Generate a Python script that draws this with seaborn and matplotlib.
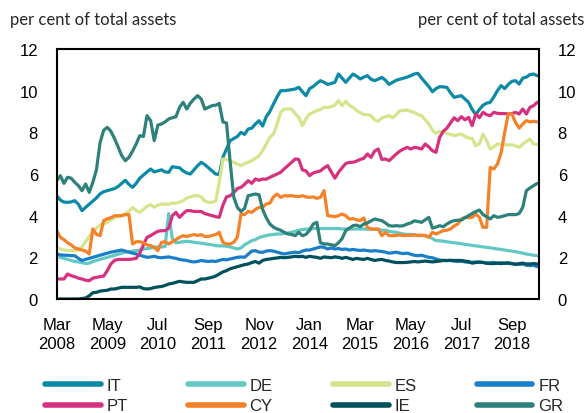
import numpy as np
import pandas as pd
import matplotlib
matplotlib.use("Agg")
import matplotlib.pyplot as plt
import seaborn as sns
from matplotlib.lines import Line2D

# ---- data (monthly, Mar 2008 - Apr 2019), per cent of total assets ----
tick_labels = ["Mar\n2008", "May\n2009", "Jul\n2010", "Sep\n2011", "Nov\n2012",
               "Jan\n2014", "Mar\n2015", "May\n2016", "Jul\n2017", "Sep\n2018"]

IT = [4.96,4.75,4.65,4.64,4.66,4.72,4.55,4.24,4.4,4.55,4.7,4.85,
      5.05,5.15,5.2,5.25,5.3,5.4,5.55,5.7,5.5,5.36,5.55,5.8,
      5.95,6.1,6.24,6.1,6.15,6.2,6.1,6.08,6.35,6.32,6.3,6.15,
      6.05,6.0,6.2,6.4,6.56,6.45,6.3,6.15,6.0,5.97,6.8,7.2,
      7.6,7.7,7.8,8.0,7.9,8.16,8.2,8.4,8.56,8.3,8.75,9.0,
      9.36,9.7,10.0,10.0,10.02,10.05,10.08,10.16,9.95,9.76,10.1,10.2,
      10.35,10.48,10.4,10.3,10.35,10.4,10.8,10.6,10.4,10.6,10.8,10.7,
      10.56,10.65,10.72,10.55,10.48,10.55,10.64,10.5,10.3,10.4,10.5,10.55,
      10.6,10.65,10.72,10.8,10.83,10.6,10.4,10.2,9.95,10.1,10.19,10.18,
      10.16,9.9,9.68,9.72,9.76,9.6,9.44,9.1,8.85,9.1,9.3,9.4,
      9.44,9.7,10.0,10.24,10.1,10.3,10.45,10.48,10.32,10.6,10.65,10.77,
      10.8,10.72]

DE = [2.05,2.0,1.95,1.9,1.85,1.8,1.78,1.75,1.7,1.72,1.8,1.85,
      1.9,1.95,2.0,2.05,2.1,2.15,2.2,2.25,2.26,2.3,2.32,2.35,
      2.4,2.42,2.45,2.48,2.5,2.5,2.52,4.1,2.9,2.7,2.72,2.75,
      2.77,2.75,2.72,2.7,2.68,2.65,2.62,2.6,2.56,2.55,2.55,2.53,
      2.5,2.45,2.4,2.45,2.6,2.7,2.8,2.85,2.95,3.0,3.04,3.08,
      3.1,3.12,3.12,3.15,3.17,3.2,3.25,3.3,3.33,3.35,3.36,3.38,
      3.38,3.38,3.38,3.38,3.38,3.38,3.38,3.36,3.36,3.36,3.36,3.36,
      3.36,3.36,3.35,3.35,3.35,3.34,3.3,3.3,3.25,3.22,3.2,3.15,
      3.12,3.1,3.1,3.08,3.06,3.05,3.04,3.0,2.9,2.8,2.8,2.77,
      2.75,2.72,2.7,2.68,2.65,2.62,2.6,2.57,2.55,2.53,2.5,2.48,
      2.46,2.43,2.4,2.38,2.35,2.32,2.3,2.27,2.24,2.2,2.16,2.13,
      2.1,2.08]

ES = [2.48,2.4,2.35,2.33,2.32,2.32,2.35,2.5,2.75,3.0,3.2,3.4,
      3.55,3.6,3.68,3.8,3.92,3.96,4.0,4.1,4.2,4.4,4.25,4.16,
      4.3,4.45,4.53,4.4,4.5,4.56,4.55,4.55,4.6,4.6,4.65,4.72,
      4.85,4.9,4.96,4.96,4.9,4.7,4.64,4.64,4.7,5.6,6.72,6.7,
      6.64,6.55,6.48,6.4,6.5,6.56,6.64,6.75,6.88,7.12,7.44,7.76,
      7.92,8.4,8.96,9.12,9.12,9.12,8.9,8.72,8.32,8.64,8.88,8.95,
      9.04,9.1,9.2,9.2,9.23,9.3,9.52,9.28,9.49,9.3,9.2,9.04,
      8.95,8.85,8.85,8.8,8.6,8.53,8.69,8.75,8.8,8.7,8.85,9.04,
      9.05,9.07,9.0,8.96,8.85,8.8,8.6,8.4,8.1,7.95,8.05,8.0,
      7.95,7.9,7.84,7.88,7.92,7.8,7.73,7.7,7.36,7.45,7.92,7.6,
      7.2,7.3,7.44,7.42,7.4,7.4,7.4,7.35,7.28,7.44,7.55,7.68,
      7.44,7.42]

FR = [2.16,2.12,2.1,2.1,2.08,2.08,1.95,1.85,1.9,1.95,2.0,2.05,
      2.1,2.15,2.2,2.25,2.28,2.32,2.35,2.3,2.25,2.2,2.16,2.1,
      2.05,2.0,2.02,2.05,2.0,1.98,2.0,2.02,1.98,1.95,1.9,1.87,
      1.85,1.8,1.78,1.8,1.85,1.82,1.8,1.82,1.8,1.85,1.9,1.88,
      1.92,1.96,2.0,2.02,2.0,2.15,2.3,2.32,2.25,2.24,2.3,2.32,
      2.3,2.25,2.2,2.16,2.2,2.22,2.25,2.22,2.3,2.35,2.35,2.4,
      2.45,2.5,2.48,2.4,2.45,2.4,2.42,2.38,2.4,2.35,2.38,2.35,
      2.33,2.35,2.32,2.3,2.32,2.3,2.28,2.25,2.2,2.22,2.25,2.2,
      2.18,2.2,2.15,2.1,2.08,2.1,2.05,2.0,1.98,1.92,1.87,1.85,
      1.84,1.86,1.82,1.8,1.82,1.78,1.76,1.76,1.78,1.75,1.76,1.72,
      1.74,1.76,1.72,1.74,1.72,1.7,1.7,1.68,1.66,1.68,1.62,1.6,
      1.62,1.55]

PT = [0.96,0.96,0.96,1.2,1.12,1.07,1.0,0.96,0.9,0.88,1.0,1.04,
      1.07,1.1,1.36,1.68,1.85,1.9,1.9,1.9,1.9,1.92,1.95,2.2,
      2.6,2.96,3.04,3.15,3.25,3.28,3.28,3.4,4.0,4.16,3.92,4.1,
      4.24,4.24,4.2,4.2,4.2,4.1,4.05,4.0,3.95,3.92,4.5,4.9,
      4.96,5.1,5.3,5.36,5.5,5.68,5.55,5.76,5.7,5.76,5.75,5.84,
      5.92,6.0,6.08,6.25,6.4,6.56,6.72,6.7,6.2,6.15,5.92,6.05,
      6.1,6.15,6.29,6.4,6.1,5.8,6.08,6.3,6.5,6.56,6.56,6.62,
      6.7,6.75,6.96,6.8,7.1,7.2,6.7,6.72,6.64,6.8,6.96,7.1,
      7.2,7.28,7.2,7.28,7.25,7.2,7.44,7.3,7.12,7.04,7.76,8.05,
      8.2,8.45,8.7,8.56,8.75,8.6,8.72,8.32,8.88,8.7,8.96,8.85,
      8.8,8.96,8.91,8.9,8.9,8.88,8.9,8.96,8.88,9.12,8.88,9.2,
      9.28,9.44]

CY = [3.28,2.96,2.85,2.7,2.6,2.45,2.4,2.35,2.3,2.16,3.36,3.1,
      3.04,3.76,3.85,3.9,4.0,4.0,4.0,4.05,4.05,2.64,2.75,2.75,
      2.7,2.6,2.56,2.48,2.32,2.72,2.75,2.64,2.75,2.85,2.96,3.04,
      3.0,3.05,3.09,3.05,3.09,3.0,3.0,3.05,3.09,3.2,2.72,2.64,
      2.64,2.72,2.96,4.08,4.05,4.2,4.16,4.3,4.4,4.4,4.56,4.6,
      4.9,5.04,4.88,4.96,4.95,4.96,4.93,4.91,4.96,4.9,4.88,4.9,
      4.83,4.88,5.2,4.0,3.98,3.95,4.0,4.08,4.0,3.84,3.86,3.8,
      3.76,3.89,3.44,3.36,3.36,3.36,3.04,3.2,3.04,3.04,3.05,3.08,
      3.04,3.06,3.05,3.08,3.04,3.06,3.05,2.96,3.2,3.12,3.2,3.28,
      3.3,3.36,3.5,3.6,3.84,3.92,3.9,3.92,4.08,3.92,3.44,3.44,
      6.32,6.24,6.48,7.0,8.0,8.88,8.88,8.48,8.2,8.4,8.56,8.5,
      8.53,8.5]

IE = [0.0,0.0,0.0,0.0,0.0,0.0,0.0,0.02,0.05,0.15,0.3,0.32,
      0.38,0.4,0.42,0.48,0.48,0.52,0.56,0.56,0.56,0.56,0.56,0.58,
      0.5,0.48,0.5,0.55,0.58,0.6,0.65,0.72,0.75,0.8,0.85,0.82,
      0.8,0.8,0.8,0.88,0.96,0.96,1.0,1.04,1.1,1.2,1.3,1.36,
      1.45,1.5,1.55,1.6,1.65,1.68,1.75,1.8,1.72,1.85,1.9,1.92,
      1.95,1.97,2.0,1.98,2.0,2.02,2.05,2.03,2.05,2.0,2.05,2.02,
      2.0,1.95,2.02,2.0,1.98,2.02,2.0,1.95,2.0,1.95,1.9,1.95,
      1.92,1.9,1.95,1.9,1.85,1.88,1.9,1.85,1.82,1.78,1.75,1.75,
      1.75,1.76,1.78,1.8,1.78,1.8,1.82,1.8,1.78,1.8,1.82,1.85,
      1.85,1.85,1.85,1.85,1.85,1.82,1.8,1.72,1.75,1.78,1.75,1.72,
      1.7,1.7,1.72,1.7,1.72,1.74,1.7,1.66,1.7,1.72,1.68,1.68,
      1.7,1.68]

GR = [5.68,5.92,5.55,5.84,5.8,5.6,5.44,5.2,5.52,5.12,5.6,6.2,
      7.5,8.1,8.24,8.05,7.7,7.3,6.88,6.64,6.8,7.1,7.44,7.84,
      7.8,8.8,8.56,7.6,8.35,8.4,8.5,8.64,8.7,8.75,9.2,9.44,
      9.12,9.4,9.6,9.76,9.6,9.12,9.2,9.28,9.3,9.39,8.5,8.45,
      6.6,4.9,4.4,4.2,4.35,4.96,5.0,5.04,5.0,4.3,3.9,3.6,
      3.45,3.36,3.3,3.2,3.12,3.1,3.04,3.2,3.04,3.1,3.3,3.6,
      3.68,2.7,2.64,2.64,2.6,2.56,2.7,2.9,3.28,3.4,3.52,3.55,
      3.47,3.6,3.65,3.75,3.84,3.8,3.76,3.65,3.52,3.5,3.52,3.5,
      3.52,3.6,3.65,3.75,3.72,3.68,3.8,3.92,3.4,3.45,3.52,3.47,
      3.6,3.7,3.76,3.78,3.79,3.9,4.0,4.1,4.2,4.27,4.05,3.95,
      3.84,4.0,3.92,3.95,4.0,4.05,4.05,4.05,4.1,4.4,5.2,5.33,
      5.44,5.55]

countries = ["IT", "DE", "ES", "FR", "PT", "CY", "IE", "GR"]
series = [IT, DE, ES, FR, PT, CY, IE, GR]
colors = {"IT": "#0a8aa6", "DE": "#62c8c3", "ES": "#d6e48c", "FR": "#1a7fca",
          "PT": "#d6317f", "CY": "#f58228", "IE": "#00505e", "GR": "#2e807b"}

n = len(IT)
months = np.arange(n)
df = pd.DataFrame({
    "month": np.tile(months, len(countries)),
    "value": np.concatenate([np.asarray(s, dtype=float) for s in series]),
    "country": np.repeat(countries, n),
})

sns.set_style("white")
plt.rcParams["font.family"] = ["Liberation Sans", "DejaVu Sans"]

fig = plt.figure(figsize=(5.88, 4.14), dpi=100)
ax = fig.add_axes([56.7 / 588, 1 - 300 / 414, (539 - 56.7) / 588, 250 / 414])

sns.lineplot(data=df, x="month", y="value", hue="country", hue_order=countries,
             palette=colors, linewidth=2.3, estimator=None, legend=False, ax=ax)

ax.set_xlim(0, n - 0.5)
ax.set_ylim(0, 12)
ax.set_xticks(np.arange(0, n, 14))
ax.set_xticklabels(tick_labels, linespacing=1.35)
ax.set_yticks(np.arange(0, 13, 2))
ax.set_xlabel("")
ax.set_ylabel("")
ax.grid(False)
ax.tick_params(axis="both", length=0, labelsize=12, colors="black")
ax.tick_params(axis="y", labelright=True, pad=13.5)
ax.tick_params(axis="x", pad=13)
for sp in ax.spines.values():
    sp.set_visible(True)
    sp.set_color("black")
    sp.set_linewidth(1.5)

fig.text(10 / 588, 1 - 20 / 414, "per cent of total assets", family="Lato",
         fontsize=12, ha="left", va="center")
fig.text(584 / 588, 1 - 20 / 414, "per cent of total assets", family="Lato",
         fontsize=12, ha="right", va="center")

# legend: row-wise order IT DE ES FR / PT CY IE GR
order = ["IT", "PT", "DE", "CY", "ES", "IE", "FR", "GR"]
handles = [Line2D([0], [0], color=colors[c], lw=4, solid_capstyle="round") for c in order]
fig.legend(handles, order, ncol=4, loc="upper left",
           bbox_to_anchor=(45 / 588, 1 - 379 / 414), frameon=False, fontsize=12,
           handlelength=3.35, handletextpad=0.35, columnspacing=3.6,
           labelspacing=0.32, borderpad=0, borderaxespad=0)

fig.savefig("out.png", dpi=100)
